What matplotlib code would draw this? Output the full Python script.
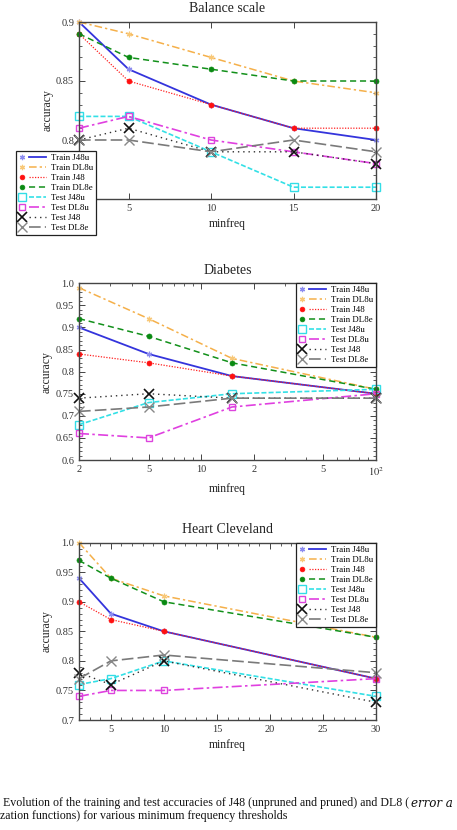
import matplotlib
matplotlib.use('Agg')
import matplotlib.pyplot as plt
from matplotlib.lines import Line2D
from matplotlib.legend_handler import HandlerBase
from matplotlib.ticker import AutoMinorLocator, FixedLocator, NullFormatter

plt.rcParams['font.family'] = ['Liberation Serif', 'DejaVu Serif']
plt.rcParams['mathtext.fontset'] = 'stix'

series_labels = ["Train J48u", "Train DL8u", "Train J48", "Train DL8e",
                 "Test J48u", "Test DL8u", "Test J48", "Test DL8e"]

# ---- Balance scale ----
balance_title = "Balance scale"
balance_minfreq = [2, 5, 10, 15, 20]
balance_train_j48u = [0.90, 0.86, 0.83, 0.81, 0.80]
balance_train_dl8u = [0.90, 0.89, 0.87, 0.85, 0.84]
balance_train_j48 = [0.89, 0.85, 0.83, 0.81, 0.81]
balance_train_dl8e = [0.89, 0.87, 0.86, 0.85, 0.85]
balance_test_j48u = [0.82, 0.82, 0.79, 0.76, 0.76]
balance_test_dl8u = [0.81, 0.82, 0.80, 0.79, 0.78]
balance_test_j48 = [0.80, 0.81, 0.79, 0.79, 0.78]
balance_test_dl8e = [0.80, 0.80, 0.79, 0.80, 0.79]
balance_yticks = [0.75, 0.8, 0.85, 0.9]
balance_yticklabels = ["", "0.8", "0.85", "0.9"]  # 0.75 label hidden under the legend in the original
balance_xticks = [5, 10, 15, 20]
balance_xticklabels = ["5", "10", "15", "20"]

# ---- Diabetes ----
diabetes_title = "Diabetes"
diabetes_minfreq = [2, 5, 15, 100]
diabetes_train_j48u = [0.90, 0.84, 0.79, 0.75]
diabetes_train_dl8u = [0.99, 0.92, 0.83, 0.76]
diabetes_train_j48 = [0.84, 0.82, 0.79, 0.75]
diabetes_train_dl8e = [0.92, 0.88, 0.82, 0.76]
diabetes_test_j48u = [0.68, 0.73, 0.75, 0.76]
diabetes_test_dl8u = [0.66, 0.65, 0.72, 0.75]
diabetes_test_j48 = [0.74, 0.75, 0.74, 0.74]
diabetes_test_dl8e = [0.71, 0.72, 0.74, 0.74]
diabetes_yticks = [0.6, 0.65, 0.7, 0.75, 0.8, 0.85, 0.9, 0.95, 1.0]
diabetes_yticklabels = ["0.6", "0.65", "0.7", "0.75", "0.8", "0.85", "0.9", "0.95", "1.0"]
diabetes_xticks = [2, 5, 10, 20, 50, 100]
diabetes_xticklabels = ["2", "5", "10", "2", "5", r"$10^2$"]

# ---- Heart Cleveland ----
heart_title = "Heart Cleveland"
heart_minfreq = [2, 5, 10, 30]
heart_train_j48u = [0.94, 0.88, 0.85, 0.77]
heart_train_dl8u = [1.00, 0.94, 0.91, 0.84]
heart_train_j48 = [0.90, 0.87, 0.85, 0.77]
heart_train_dl8e = [0.97, 0.94, 0.90, 0.84]
heart_test_j48u = [0.76, 0.77, 0.80, 0.74]
heart_test_dl8u = [0.74, 0.75, 0.75, 0.77]
heart_test_j48 = [0.78, 0.76, 0.80, 0.73]
heart_test_dl8e = [0.77, 0.80, 0.81, 0.78]
heart_yticks = [0.7, 0.75, 0.8, 0.85, 0.9, 0.95, 1.0]
heart_yticklabels = ["0.7", "0.75", "0.8", "0.85", "0.9", "0.95", "1.0"]
heart_xticks = [5, 10, 15, 20, 25, 30]
heart_xticklabels = ["5", "10", "15", "20", "25", "30"]

caption_line1 = "Evolution of the training and test accuracies of J48 (unpruned and pruned) and DL8 ("
caption_italic = "error a"
caption_line2 = "zation functions) for various minimum frequency thresholds"

# ---- styles ----
styles = [
    dict(color='#3434dc', ls='-', lw=1.3, marker=(6, 2, 0), ms=4, mfc='#8c8cf0', mec='#8c8cf0', mew=0.9),
    dict(color='#f5b04a', ls=(0, (5, 2, 1.5, 2)), lw=1.1, marker=(6, 2, 0), ms=4, mfc='#f8c878', mec='#f8c878', mew=0.9),
    dict(color='#ff2020', ls=(0, (1, 1.2)), lw=0.9, marker='o', ms=3.6, mfc='#ff1010', mec='#ff1010', mew=0.5),
    dict(color='#12901a', ls=(0, (4, 2.5)), lw=1.1, marker='o', ms=3.6, mfc='#0a8a12', mec='#0a8a12', mew=0.5),
    dict(color='#33e0e6', ls=(0, (3, 1.3)), lw=1.2, marker='s', ms=5.5, mfc='none', mec='#33dde6', mew=1.0),
    dict(color='#e040e0', ls=(0, (6, 2, 1.5, 2)), lw=1.2, marker='s', ms=5.0, mfc='none', mec='#dd44dd', mew=1.0),
    dict(color='#303030', ls=(0, (1, 2.8)), lw=1.0, marker='x', ms=7, mfc='none', mec='#111111', mew=1.2),
    dict(color='#7a7a7a', ls=(0, (7, 2.5)), lw=1.2, marker='x', ms=7, mfc='none', mec='#888888', mew=1.0),
]


class MarkerLineHandler(HandlerBase):
    def __init__(self, st):
        super().__init__()
        self.st = st

    def create_artists(self, legend, orig_handle, xdescent, ydescent, width, height, fontsize, trans):
        st = self.st
        yc = height / 2 - ydescent
        x0 = -xdescent
        mk = Line2D([x0 + 0.1 * width], [yc], ls='none', marker=st['marker'], ms=st['ms'] * 0.95,
                    mfc=st['mfc'], mec=st['mec'], mew=st['mew'])
        ln = Line2D([x0 + 0.38 * width, x0 + width], [yc, yc], ls=st['ls'], color=st['color'], lw=st['lw'])
        mk.set_transform(trans)
        ln.set_transform(trans)
        return [ln, mk]


W, H = 457, 830
fig = plt.figure(figsize=(W / 100, H / 100), dpi=100)


def make_axes(top_px, bottom_px):
    left, right = 79 / W, 376 / W
    return fig.add_axes([left, 1 - bottom_px / H, right - left, (bottom_px - top_px) / H])


def style_axes(ax):
    for s in ax.spines.values():
        s.set_color('#444444')
        s.set_linewidth(1.0)
    ax.tick_params(which='both', direction='in', top=True, right=True, colors='#444444',
                   labelcolor='#333333', labelsize=7.5)
    ax.tick_params(which='major', length=4, width=0.7)
    ax.tick_params(which='minor', length=2, width=0.6)
    ax.set_ylabel("accuracy", fontsize=8.5, color='#222222', labelpad=2)
    ax.set_xlabel("minfreq", fontsize=8.5, color='#222222', labelpad=4)


def plot_panel(ax, x, ys, title):
    handles = []
    for y, st, lab in zip(ys, styles, series_labels):
        h, = ax.plot(x, y, color=st['color'], ls=st['ls'], lw=st['lw'], marker=st['marker'],
                     ms=st['ms'], mfc=st['mfc'], mec=st['mec'], mew=st['mew'], label=lab, clip_on=False)
        handles.append(h)
    ax.set_title(title, fontsize=10, pad=7, color='#222222')
    return handles


leg_kw = dict(fontsize=6.4, frameon=True, fancybox=False, framealpha=1, edgecolor='#222222',
              handlelength=3.0, handletextpad=0.6, labelspacing=0.2, borderpad=0.32, borderaxespad=0)

# Panel 1
ax1 = make_axes(22, 199)
h1 = plot_panel(ax1, balance_minfreq,
                [balance_train_j48u, balance_train_dl8u, balance_train_j48, balance_train_dl8e,
                 balance_test_j48u, balance_test_dl8u, balance_test_j48, balance_test_dl8e], balance_title)
ax1.set_xlim(2, 20)
ax1.set_ylim(0.75, 0.9)
ax1.set_yticks(balance_yticks)
ax1.set_yticklabels(balance_yticklabels)
ax1.set_xticks(balance_xticks)
ax1.set_xticklabels(balance_xticklabels)
ax1.yaxis.set_minor_locator(AutoMinorLocator(5))
style_axes(ax1)
lg1 = ax1.legend(h1, series_labels, loc='upper left', bbox_to_anchor=(16 / W, 1 - 151 / H),
                 bbox_transform=fig.transFigure,
                 handler_map={h: MarkerLineHandler(st) for h, st in zip(h1, styles)}, **leg_kw)
lg1.get_frame().set_linewidth(0.9)
lg1.set_zorder(10)

# Panel 2
ax2 = make_axes(283.3, 460)
h2 = plot_panel(ax2, diabetes_minfreq,
                [diabetes_train_j48u, diabetes_train_dl8u, diabetes_train_j48, diabetes_train_dl8e,
                 diabetes_test_j48u, diabetes_test_dl8u, diabetes_test_j48, diabetes_test_dl8e], diabetes_title)
ax2.set_xscale('log')
ax2.set_xlim(2, 100)
ax2.set_ylim(0.6, 1.0)
ax2.set_yticks(diabetes_yticks)
ax2.set_yticklabels(diabetes_yticklabels)
ax2.xaxis.set_major_locator(FixedLocator(diabetes_xticks))
ax2.set_xticklabels(diabetes_xticklabels)
ax2.xaxis.set_minor_locator(FixedLocator([3, 4, 6, 7, 8, 9, 30, 40, 60, 70, 80, 90]))
ax2.xaxis.set_minor_formatter(NullFormatter())
ax2.yaxis.set_minor_locator(AutoMinorLocator(5))
style_axes(ax2)
lg2 = ax2.legend(h2, series_labels, loc='upper right', bbox_to_anchor=(1, 1),
                 handler_map={h: MarkerLineHandler(st) for h, st in zip(h2, styles)}, **leg_kw)
lg2.get_frame().set_linewidth(0.9)
lg2.set_zorder(10)

# Panel 3
ax3 = make_axes(542.7, 720)
h3 = plot_panel(ax3, heart_minfreq,
                [heart_train_j48u, heart_train_dl8u, heart_train_j48, heart_train_dl8e,
                 heart_test_j48u, heart_test_dl8u, heart_test_j48, heart_test_dl8e], heart_title)
ax3.set_xlim(2, 30)
ax3.set_ylim(0.7, 1.0)
ax3.set_yticks(heart_yticks)
ax3.set_yticklabels(heart_yticklabels)
ax3.set_xticks(heart_xticks)
ax3.set_xticklabels(heart_xticklabels)
ax3.xaxis.set_minor_locator(AutoMinorLocator(5))
ax3.yaxis.set_minor_locator(AutoMinorLocator(5))
style_axes(ax3)
lg3 = ax3.legend(h3, series_labels, loc='upper right', bbox_to_anchor=(1, 1),
                 handler_map={h: MarkerLineHandler(st) for h, st in zip(h3, styles)}, **leg_kw)
lg3.get_frame().set_linewidth(0.9)
lg3.set_zorder(10)

# Caption
t1 = fig.text(3 / W, 1 - 803 / H, caption_line1, fontsize=8.6, ha='left', va='center', color='#111111')
fig.canvas.draw()
bb = t1.get_window_extent(fig.canvas.get_renderer())
fig.text(bb.x1 / W + 2 / W, 1 - 803 / H, caption_italic, fontsize=8.6, ha='left', va='center',
         style='italic', family=['DejaVu Serif'], color='#111111')
fig.text(0 / W, 1 - 816 / H, caption_line2, fontsize=8.6, ha='left', va='center', color='#111111')

fig.savefig('out.png', dpi=100)
